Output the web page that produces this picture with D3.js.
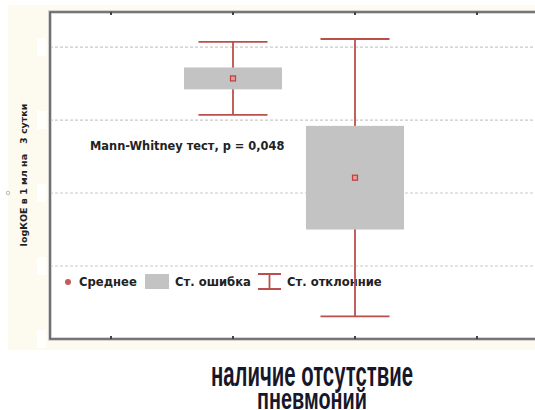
<!DOCTYPE html>
<html><head><meta charset="utf-8">
<script src="https://cdn.jsdelivr.net/npm/d3@7"></script>
<style>body{margin:0;background:#fff}svg{display:block}</style>
</head><body>
<svg id="c" width="535" height="410"></svg>
<script>
const categories = ["наличие", "отсутствие"];
const means = [7.57, 6.21];
const stdErrors = [0.15, 0.71];
const stdDevs = [0.50, 1.90];
const yTicks = [4, 5, 6, 7, 8];
const legendLabels = ["Среднее", "Ст. ошибка", "Ст. отклонние"];
const annotation = "Mann-Whitney тест, p = 0,048";
const yTitle = "logКОЕ в 1 мл на   3 сутки";
const xTitleLines = ["наличие отсутствие", "пневмоний"];

const svg = d3.select("#c");
const red = "#bb4f4c";
const F = "DejaVu Sans, Verdana, sans-serif";
const L = 50, R = 538, T = 12, B = 339;
const x = d3.scaleLinear().domain([0, 4]).range([L, R]);
const y = d3.scaleLinear().domain([4, 8.48]).range([B, T]);
const catPos = i => x(i + 1.5);

// cream background
svg.append("rect").attr("x", 8).attr("y", 5).attr("width", 527).attr("height", 345).attr("fill", "#fdfaf0");
// plot area
svg.append("rect").attr("x", L).attr("y", T).attr("width", R - L).attr("height", B - T).attr("fill", "#fff");

// grid
svg.append("g").selectAll("line").data(yTicks.slice(1)).join("line")
  .attr("x1", L).attr("x2", R).attr("y1", d => y(d)).attr("y2", d => y(d))
  .attr("stroke", "#c9c9c9").attr("stroke-width", 1.2).attr("stroke-dasharray", "3,2");

// hidden y tick label placeholders (white patches)
svg.append("g").selectAll("rect").data(yTicks).join("rect")
  .attr("x", 37).attr("y", d => y(d) - 9).attr("width", 9).attr("height", 18)
  .attr("fill", "#fff").attr("opacity", 0.9);

// frame
const fr = svg.append("g").attr("fill", "none");
fr.append("path").attr("d", `M${R},${T}H${L}V${B}H${R}`).attr("stroke", "#c8c8c8").attr("stroke-width", 3.5);
fr.append("path").attr("d", `M${R},${T}H${L}V${B}H${R}`).attr("stroke", "#5a5a5a").attr("stroke-width", 1.6);

// x ticks top & bottom
const xt = [0.5, 1.5, 2.5, 3.5];
svg.append("g").selectAll("line").data(xt).join("line")
  .attr("x1", d => x(d)).attr("x2", d => x(d)).attr("y1", T).attr("y2", T + 3)
  .attr("stroke", "#444").attr("stroke-width", 2);
svg.append("g").selectAll("line").data(xt).join("line")
  .attr("x1", d => x(d)).attr("x2", d => x(d)).attr("y1", B).attr("y2", B - 3)
  .attr("stroke", "#444").attr("stroke-width", 2);

// legend (drawn under data)
const lg = svg.append("g").attr("font-family", F)
  .attr("font-weight", "bold").attr("font-size", 11.6).attr("fill", "#222");
const ly = 282;
lg.append("circle").attr("cx", 68).attr("cy", ly).attr("r", 3).attr("fill", "#c45b58");
lg.append("text").attr("x", 79).attr("y", ly + 4).text(legendLabels[0]);
lg.append("rect").attr("x", 145).attr("y", ly - 8).attr("width", 24).attr("height", 15).attr("fill", "#c3c3c3");
lg.append("text").attr("x", 175).attr("y", ly + 4).text(legendLabels[1]);
lg.append("path").attr("d", `M258,${ly - 8}H281M269.5,${ly - 8}V${ly + 7}M258,${ly + 7}H281`)
  .attr("stroke", red).attr("stroke-width", 1.8).attr("fill", "none");
lg.append("text").attr("x", 287).attr("y", ly + 4).text(legendLabels[2]);

// annotation
svg.append("text").attr("x", 90).attr("y", 150)
  .attr("font-family", F).attr("font-weight", "bold")
  .attr("font-size", 11.4).attr("fill", "#222").text(annotation);

// data
const bw = 98, cw = 69;
const g = svg.append("g");
categories.forEach((c, i) => {
  const cx = catPos(i);
  g.append("line").attr("x1", cx).attr("x2", cx).attr("y1", y(means[i] + stdDevs[i])).attr("y2", y(means[i] - stdDevs[i]))
    .attr("stroke", red).attr("stroke-width", 1.8);
  [1, -1].forEach(s => g.append("line").attr("x1", cx - cw / 2).attr("x2", cx + cw / 2)
    .attr("y1", y(means[i] + s * stdDevs[i])).attr("y2", y(means[i] + s * stdDevs[i]))
    .attr("stroke", red).attr("stroke-width", 1.8));
  g.append("rect").attr("x", cx - bw / 2).attr("width", bw)
    .attr("y", y(means[i] + stdErrors[i])).attr("height", y(means[i] - stdErrors[i]) - y(means[i] + stdErrors[i]))
    .attr("fill", "#c3c3c3");
  g.append("rect").attr("x", cx - 2.5).attr("y", y(means[i]) - 2.5).attr("width", 5).attr("height", 5)
    .attr("fill", "#e79a98").attr("stroke", "#b9403d").attr("stroke-width", 1.2);
});

// y title
svg.append("text").attr("transform", "translate(27,175) rotate(-90)").attr("text-anchor", "middle")
  .attr("font-family", F).attr("font-weight", "bold")
  .attr("font-size", 9.5).attr("fill", "#222").style("white-space", "pre").text(yTitle);
svg.append("circle").attr("cx", 8).attr("cy", 193).attr("r", 1.8).attr("fill", "none").attr("stroke", "#aaa").attr("stroke-width", 0.8);

// x title
const xtG = svg.append("g").attr("font-family", "Liberation Sans Narrow, Arial Narrow, sans-serif")
  .attr("font-weight", "bold").attr("fill", "#17172a").attr("text-anchor", "middle");
xtG.append("text").attr("transform", "translate(312,386) scale(1,1.5)").attr("font-size", 23)
  .attr("textLength", 202).attr("lengthAdjust", "spacingAndGlyphs").text(xTitleLines[0]);
xtG.append("text").attr("transform", "translate(312,409) scale(1,1.3)").attr("font-size", 23)
  .attr("textLength", 110).attr("lengthAdjust", "spacingAndGlyphs").text(xTitleLines[1]);
</script>
</body></html>
